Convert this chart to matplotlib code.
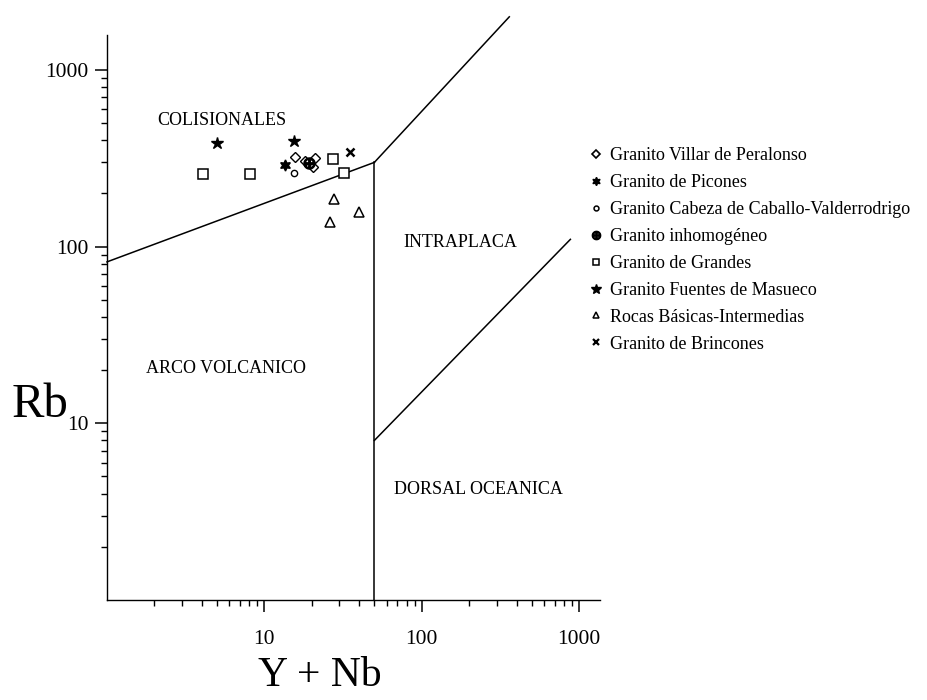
import matplotlib
matplotlib.use("Agg")
import matplotlib.pyplot as plt
from matplotlib.lines import Line2D
from matplotlib.ticker import LogLocator, FixedLocator, NullFormatter, FixedFormatter

plt.rcParams['font.family'] = ['Liberation Serif', 'DejaVu Serif']

# ---- data (Y+Nb, Rb) ----
villar_x = [15.7, 18.2, 21.0, 20.3]
villar_y = [322, 306, 318, 284]
picones_x = [13.6]
picones_y = [290]
cabeza_x = [15.5]
cabeza_y = [262]
inhomog_x = [19.3]
inhomog_y = [298]
grandes_x = [4.05, 8.15, 27.4, 32.1]
grandes_y = [258, 258, 314, 262]
fuentes_x = [4.97, 15.5]
fuentes_y = [387, 397]
rocas_x = [27.7, 39.9, 26.2]
rocas_y = [187, 158, 138]
brincones_x = [35.0]
brincones_y = [344]

# boundary lines
vag_col_x = [1, 50]
vag_col_y = [82, 300]
col_wpg_x = [50, 360]
col_wpg_y = [300, 2000]
vag_wpg_x = [50, 50]
vag_wpg_y = [300, 1]
orgwpg_x = [50, 880]
orgwpg_y = [8, 110]

labels = ['Granito Villar de Peralonso', 'Granito de Picones',
          'Granito Cabeza de Caballo-Valderrodrigo', 'Granito inhomogéneo',
          'Granito de Grandes', 'Granito Fuentes de Masueco',
          'Rocas Básicas-Intermedias', 'Granito de Brincones']

fields = ['COLISIONALES', 'INTRAPLACA', 'ARCO VOLCANICO', 'DORSAL OCEANICA']
field_x = [5.35, 176, 5.7, 230]
field_y = [515, 105, 20.5, 4.24]

xticks = [10, 100, 1000]
yticks = [10, 100, 1000]

series = [
    (villar_x, villar_y, dict(marker='D', ms=5.5, mfc='white', mew=1.0), dict(ms=4, mew=1.2)),
    (picones_x, picones_y, dict(marker=(6, 1, 0), ms=8, mfc='black'), dict(ms=6)),
    (cabeza_x, cabeza_y, dict(marker='o', ms=4.5, mfc='white', mew=1.0), dict(ms=3.5, mew=1.1)),
    (inhomog_x, inhomog_y, dict(marker=r'$\oplus$', ms=8, mfc='black'), dict(ms=6)),
    (grandes_x, grandes_y, dict(marker='s', ms=6.5, mfc='white', mew=1.1), dict(ms=5, mew=1.1)),
    (fuentes_x, fuentes_y, dict(marker='*', ms=9, mfc='black'), dict(ms=7)),
    (rocas_x, rocas_y, dict(marker='^', ms=7, mfc='white', mew=1.1), dict(ms=5, mew=1.1)),
    (brincones_x, brincones_y, dict(marker='x', ms=6, mfc='black', mew=1.8), dict(ms=4.5, mew=1.6)),
]

fig = plt.figure(figsize=(9.28, 7.0), dpi=100)
ax = fig.add_axes([0.1153, 0.1429, 0.5313, 0.8071])
ax.set_xscale('log')
ax.set_yscale('log')
ax.set_xlim(1, 1358)
ax.set_ylim(1, 1578)

for xs, ys in [(vag_col_x, vag_col_y), (col_wpg_x, col_wpg_y),
               (vag_wpg_x, vag_wpg_y), (orgwpg_x, orgwpg_y)]:
    ax.plot(xs, ys, color='black', lw=1.1, clip_on=False, zorder=2)

handles = []
for (xs, ys, st, lst), lab in zip(series, labels):
    ax.plot(xs, ys, ls='none', mec='black', zorder=3, **st)
    lk = dict(st)
    lk.update(lst)
    handles.append(Line2D([], [], ls='none', mec='black', label=lab, **lk))

for t, x, y in zip(fields, field_x, field_y):
    ax.text(x, y, t, ha='center', va='center', fontsize=13)

ax.spines['top'].set_visible(False)
ax.spines['right'].set_visible(False)
for s in ['left', 'bottom']:
    ax.spines[s].set_linewidth(1.0)

ax.xaxis.set_major_locator(FixedLocator(xticks))
ax.xaxis.set_major_formatter(FixedFormatter([str(v) for v in xticks]))
ax.yaxis.set_major_locator(FixedLocator(yticks))
ax.yaxis.set_major_formatter(FixedFormatter([str(v) for v in yticks]))
ax.xaxis.set_minor_locator(LogLocator(base=10, subs=range(2, 10)))
ax.yaxis.set_minor_locator(LogLocator(base=10, subs=range(2, 10)))
ax.xaxis.set_minor_formatter(NullFormatter())
ax.yaxis.set_minor_formatter(NullFormatter())
ax.tick_params(which='major', direction='out', length=8.5, width=1.1, labelsize=15.5)
ax.tick_params(which='minor', direction='out', length=4.5, width=1.0)
ax.tick_params(axis='x', which='major', pad=13)
ax.tick_params(axis='y', which='major', pad=5)

fig.text(0.043, 1 - 405 / 700, 'Rb', fontsize=35, ha='center', va='center')
fig.text(0.345, 1 - 676 / 700, 'Y + Nb', fontsize=30, ha='center', va='center')

leg = fig.legend(handles=handles, loc='upper left', bbox_to_anchor=(0.628, 0.8), frameon=False,
                 fontsize=13, handlelength=0.7, handletextpad=0.4, labelspacing=0.55,
                 borderaxespad=0)

fig.savefig('out.png', dpi=100, facecolor='white')
